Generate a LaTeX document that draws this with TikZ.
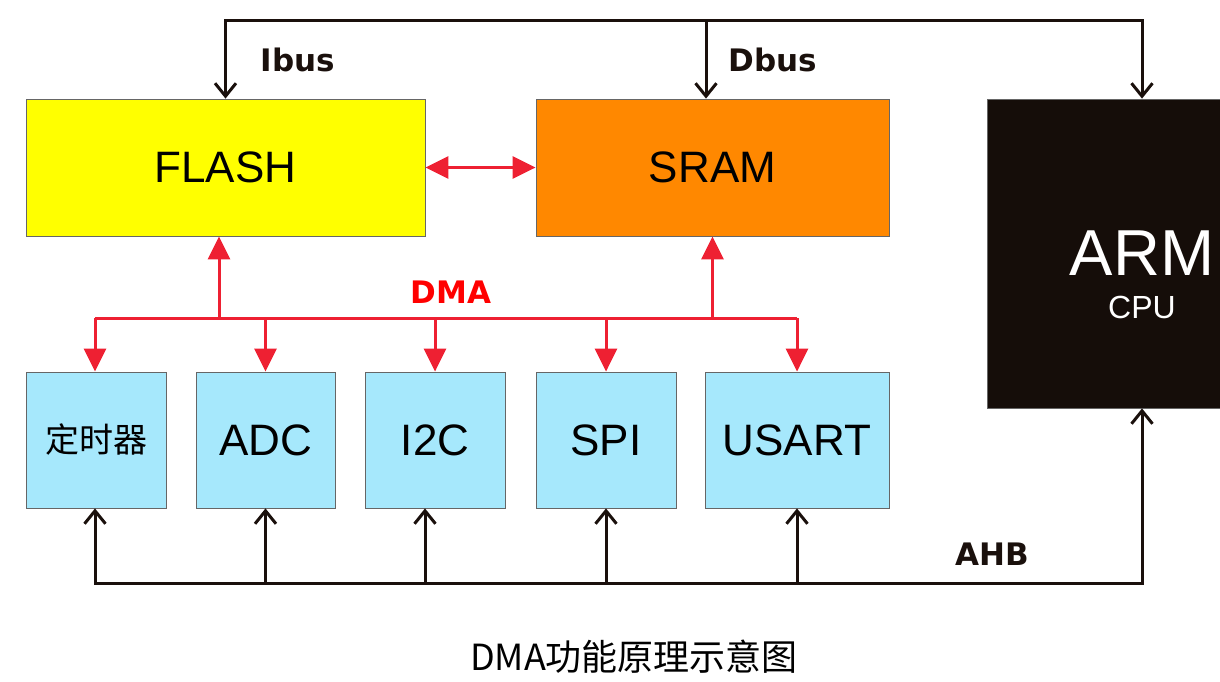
\documentclass[tikz,border=0pt]{standalone}
\usepackage{fontspec}
\setmainfont{Liberation Sans}
\newfontfamily\cjk{Noto Sans CJK SC}
\newfontfamily\busfont{DejaVu Sans Bold}
\usetikzlibrary{arrows.meta}

\definecolor{flashyellow}{RGB}{255,255,0}
\definecolor{sramorange}{RGB}{255,136,0}
\definecolor{periblue}{RGB}{166,232,252}
\definecolor{armdark}{RGB}{21,13,9}
\definecolor{dmared}{RGB}{238,32,50}
\definecolor{buslabel}{RGB}{26,16,12}

\begin{document}
\begin{tikzpicture}[x=1pt, y=-1pt,
    box/.style={draw=gray!80!black, line width=0.8pt, inner sep=0pt, font=\fontsize{44}{48}\selectfont},
    peri/.style={box, fill=periblue, minimum height=136pt},
    blk/.style={line width=3pt, color=buslabel},
    blkarrow/.style={blk, -{Straight Barb[length=13pt, width=21pt]}},
    blkboth/.style={blk, {Straight Barb[length=13pt, width=21pt]}-{Straight Barb[length=13pt, width=21pt]}},
    redline/.style={line width=3pt, color=dmared},
    redarrow/.style={redline, -{Triangle[length=23pt, width=22pt]}},
    busname/.style={font=\busfont\fontsize{31}{34}\selectfont, text=buslabel}]
    \useasboundingbox (0,0) rectangle (1220,681);
    \clip (0,0) rectangle (1220,681);

    % memories and cpu
    \node[box, fill=flashyellow, minimum width=399pt, minimum height=137pt] (flash) at (225.5,167.5) {FLASH};
    \node[box, fill=sramorange, minimum width=353pt, minimum height=137pt] (sram) at (712.5,167.5) {SRAM};
    \node[box, fill=armdark, minimum width=310pt, minimum height=309pt] (arm) at (1142,253.5) {};
    \node[text=white, font=\fontsize{65}{70}\selectfont] (armtext) at (1142,253) {ARM};
    \node[text=white, font=\fontsize{32}{36}\selectfont] (cputext) at (1142,307) {CPU};

    % peripherals
    \node[peri, minimum width=140pt] (timer) at (96,440) {\cjk\fontsize{34}{38}\selectfont 定时器};
    \node[peri, minimum width=139pt] (adc) at (265.5,440) {ADC};
    \node[peri, minimum width=140pt] (i2c) at (435,440) {I2C};
    \node[peri, minimum width=140pt] (spi) at (606,440) {SPI};
    \node[peri, minimum width=184pt] (usart) at (797,440) {USART};

    % Ibus / Dbus
    \coordinate (cpubus) at (1142,20);
    \coordinate (dbus) at (706,20);
    \draw[blkboth] (flash.north) |- (cpubus) -- (arm.north);
    \draw[blkarrow] (dbus) -- (dbus |- sram.north);
    \node[busname] (ibuslabel) at (298,60) {Ibus};
    \node[busname] (dbuslabel) at (773,60) {Dbus};

    % DMA
    \coordinate (dmabus) at (95,318);
    \coordinate (dmaflash) at (219,318);
    \draw[redline] (dmabus) -- (usart.north |- dmabus);
    \draw[redarrow] (dmaflash) -- (dmaflash |- flash.south);
    \draw[redarrow] (sram.south |- dmabus) -- (sram.south);
    \draw[redarrow] (dmabus) -- (dmabus |- timer.north);
    \draw[redarrow] (adc.north |- dmabus) -- (adc.north);
    \draw[redarrow] (i2c.north |- dmabus) -- (i2c.north);
    \draw[redarrow] (spi.north |- dmabus) -- (spi.north);
    \draw[redarrow] (usart.north |- dmabus) -- (usart.north);
    \draw[redline, {Triangle[length=23pt, width=22pt]}-{Triangle[length=23pt, width=22pt]}] (flash.east) -- (sram.west);
    \node[font=\busfont\fontsize{31}{34}\selectfont, text=red] (dmalabel) at (451,292) {DMA};

    % AHB
    \coordinate (ahbleft) at (95,583);
    \coordinate (ahbright) at (1142,583);
    \draw[blkboth] (ahbleft |- timer.south) -- (ahbleft) -- (ahbright) -- (arm.south);
    \draw[blkarrow] (adc.south |- ahbright) -- (adc.south);
    \draw[blkarrow] ([xshift=-10pt]i2c.south |- ahbright) -- ([xshift=-10pt]i2c.south);
    \draw[blkarrow] (spi.south |- ahbright) -- (spi.south);
    \draw[blkarrow] (usart.south |- ahbright) -- (usart.south);
    \node[busname] (ahblabel) at (992,554) {AHB};

    \node[font=\cjk\fontsize{36}{40}\selectfont] (caption) at (634,657) {DMA功能原理示意图};
  \end{tikzpicture}
\end{document}
